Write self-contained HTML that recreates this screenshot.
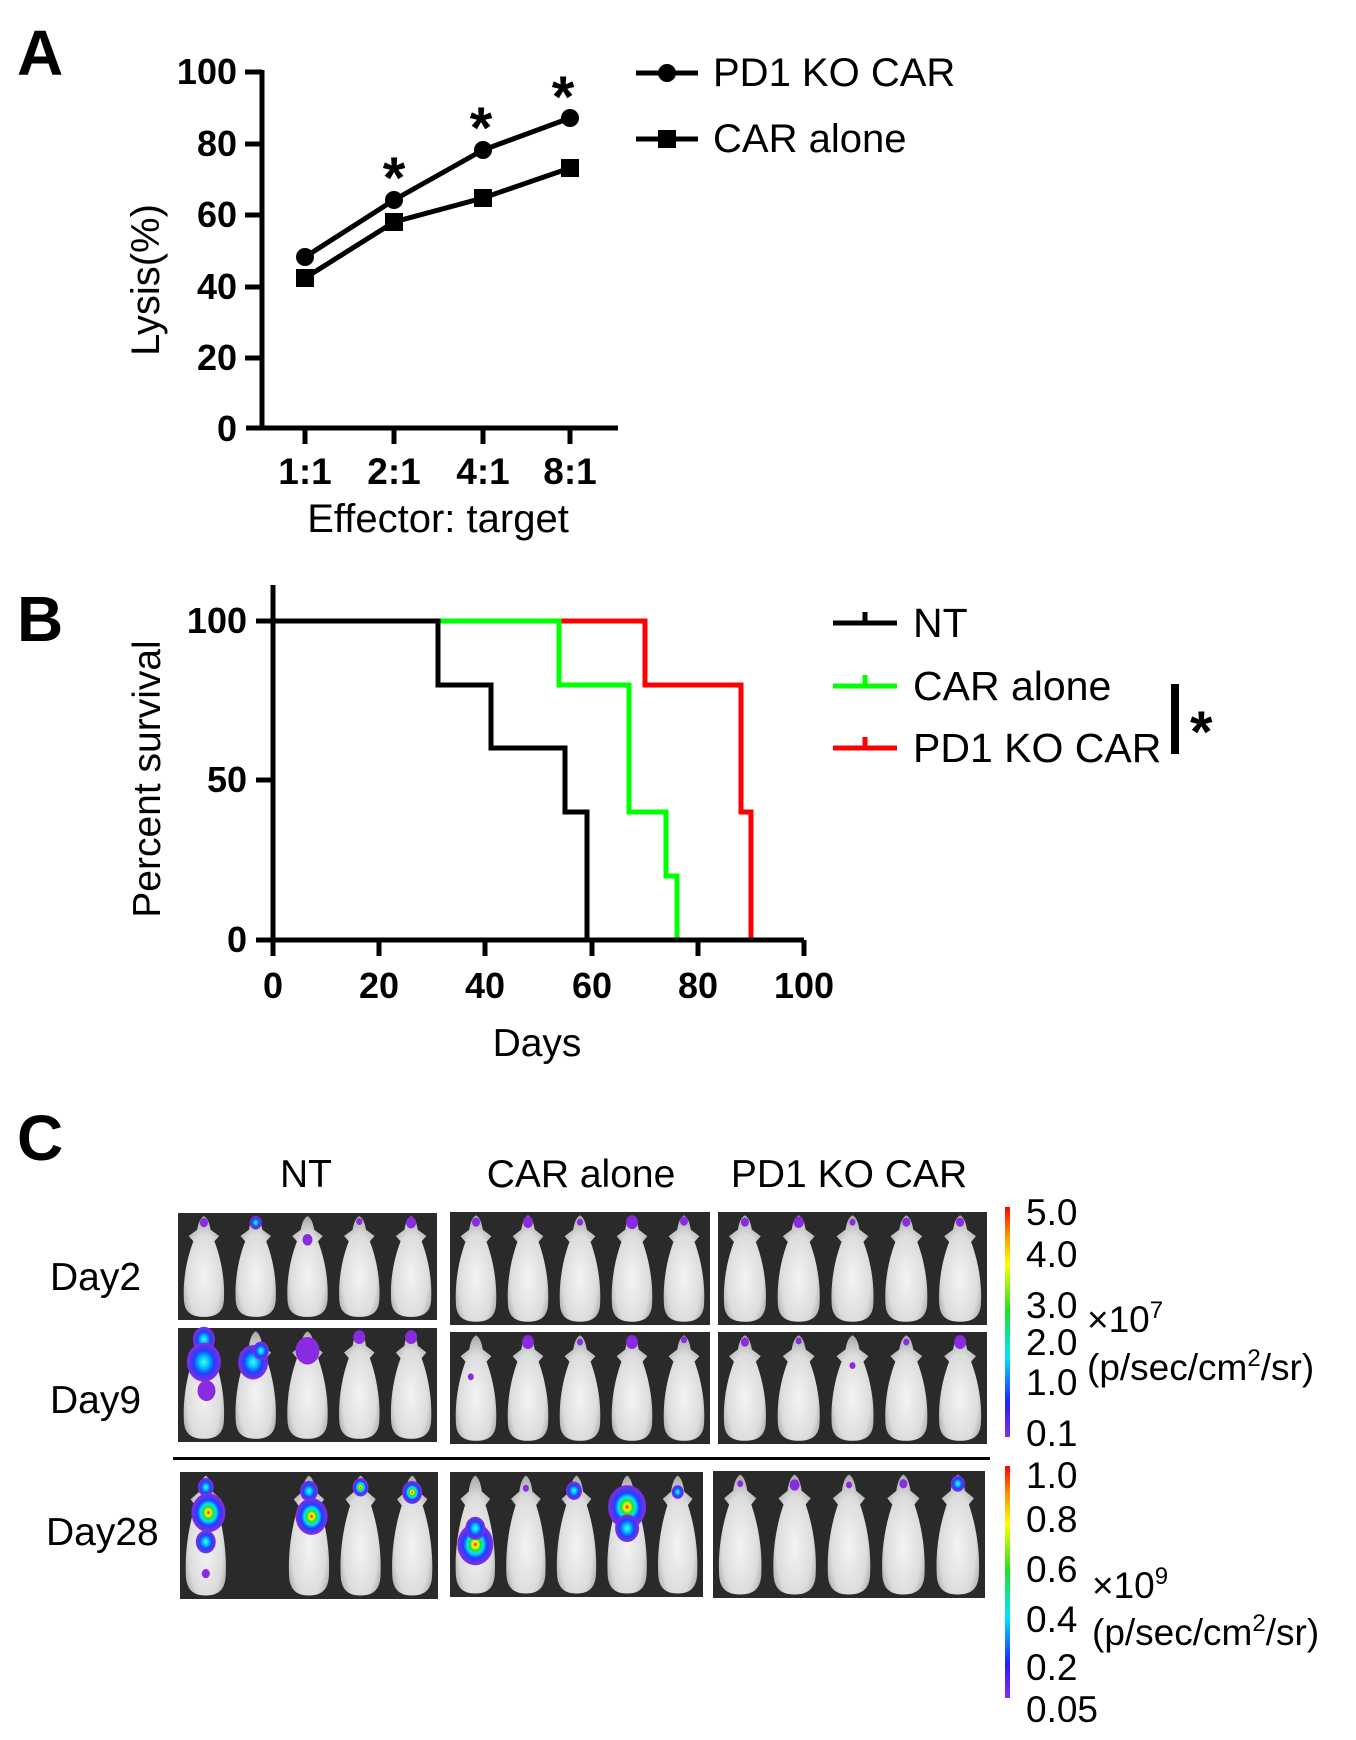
<!DOCTYPE html>
<html><head><meta charset="utf-8"><style>
html,body{margin:0;padding:0;background:#fff;}
svg{display:block;}
text{font-family:"Liberation Sans",Arial,sans-serif;fill:#000;}
.b{font-weight:bold;}
</style></head><body>
<svg id="s" width="1356" height="1740" viewBox="0 0 1356 1740" xmlns="http://www.w3.org/2000/svg">
<defs>
<linearGradient id="cb" x1="0" y1="1" x2="0" y2="0">
<stop offset="0" stop-color="#8a2be2"/><stop offset="0.15" stop-color="#2020ff"/><stop offset="0.35" stop-color="#00e5ff"/><stop offset="0.55" stop-color="#20e020"/><stop offset="0.75" stop-color="#ffff00"/><stop offset="0.88" stop-color="#ff9000"/><stop offset="1" stop-color="#ff0000"/>
</linearGradient>
<radialGradient id="sig">
<stop offset="0" stop-color="#ff0000"/><stop offset="0.15" stop-color="#ffff00"/><stop offset="0.3" stop-color="#20e020"/><stop offset="0.45" stop-color="#00e5ff"/><stop offset="0.65" stop-color="#2040ff"/><stop offset="1" stop-color="#8a2be2"/>
</radialGradient>
<radialGradient id="sigb">
<stop offset="0" stop-color="#40ffe0"/><stop offset="0.3" stop-color="#00c0ff"/><stop offset="0.6" stop-color="#2040ff"/><stop offset="1" stop-color="#8a2be2"/>
</radialGradient>
<radialGradient id="mg" cx="0.5" cy="0.6" r="0.6">
<stop offset="0" stop-color="#f4f4f4"/><stop offset="0.7" stop-color="#dcdcdc"/><stop offset="1" stop-color="#a8a8a8"/>
</radialGradient>
<symbol id="mouse" viewBox="0 0 50 100" preserveAspectRatio="none">
<path d="M25 2 C21 4 19 9 18 15 L9 21 L14 26 C8 40 3 60 4 80 C4 92 10 98 25 98 C40 98 46 92 46 80 C47 60 42 40 36 26 L41 21 L32 15 C31 9 29 4 25 2 Z" fill="url(#mg)"/>
</symbol>
</defs>

<!-- Panel A -->
<text x="17" y="75" class="b" font-size="64">A</text>
<g stroke="#000" stroke-width="5" fill="none">
<path d="M262 70 V430 M246 428 H618"/>
<path d="M245 72 H262 M245 144 H262 M245 215 H262 M245 287 H262 M245 358 H262"/>
<path d="M305 428 V444 M394 428 V444 M483 428 V444 M570 428 V444"/>
<polyline points="305,257 394,200 483,150 570,118"/>
<polyline points="305,278 394,222 483,198 570,168"/>
</g>
<g fill="#000">
<circle cx="305" cy="257" r="9"/><circle cx="394" cy="200" r="9"/><circle cx="483" cy="150" r="9"/><circle cx="570" cy="118" r="9"/>
<rect x="296" y="269" width="18" height="18"/><rect x="385" y="213" width="18" height="18"/><rect x="474" y="189" width="18" height="18"/><rect x="561" y="159" width="18" height="18"/>
</g>
<g class="b" font-size="36" text-anchor="end">
<text x="237" y="84">100</text><text x="237" y="156">80</text><text x="237" y="227">60</text><text x="237" y="299">40</text><text x="237" y="370">20</text><text x="237" y="441">0</text>
</g>
<g class="b" font-size="37" text-anchor="middle">
<text x="305" y="484">1:1</text><text x="394" y="484">2:1</text><text x="483" y="484">4:1</text><text x="570" y="484">8:1</text>
</g>
<g font-size="58" class="b" text-anchor="middle"><text x="394" y="198">*</text><text x="481" y="148">*</text><text x="563" y="117">*</text></g>
<text x="438" y="532" font-size="40" text-anchor="middle">Effector: target</text>
<text transform="translate(159,280) rotate(-90)" font-size="40" text-anchor="middle">Lysis(%)</text>
<g stroke="#000" stroke-width="5"><path d="M636 73 H698 M636 139 H698"/></g>
<circle cx="667" cy="73" r="9"/><rect x="658" y="130" width="18" height="18"/>
<text x="713" y="86" font-size="40">PD1 KO CAR</text>
<text x="713" y="152" font-size="40">CAR alone</text>

<!-- Panel B -->
<text x="17" y="641" class="b" font-size="64">B</text>
<g stroke-width="5" fill="none">
<path stroke="#ff0000" d="M559 621 H645 V685 H741 V812 H751 V940"/>
<path stroke="#00ff00" d="M438 621 H559 V685 H629 V812 H666 V876 H677 V940"/>
<path stroke="#000" d="M273 621 H438 V685 H491 V748 H565 V812 H587 V940"/>
<path stroke="#000" d="M273 585 V942 M256 940 H804"/>
<path stroke="#000" d="M256 621 H273 M256 780 H273"/>
<path stroke="#000" d="M273 940 V956 M379 940 V956 M485 940 V956 M592 940 V956 M698 940 V956 M804 940 V956"/>
</g>
<g class="b" font-size="36" text-anchor="end"><text x="247" y="633">100</text><text x="247" y="792">50</text><text x="247" y="952">0</text></g>
<g class="b" font-size="36" text-anchor="middle"><text x="273" y="998">0</text><text x="379" y="998">20</text><text x="485" y="998">40</text><text x="592" y="998">60</text><text x="698" y="998">80</text><text x="804" y="998">100</text></g>
<text x="537" y="1056" font-size="39" text-anchor="middle">Days</text>
<text transform="translate(160,779) rotate(-90)" font-size="39" text-anchor="middle">Percent survival</text>
<g stroke-width="5"><path stroke="#000" d="M833 623 H897 M865 623 V612"/><path stroke="#00ff00" d="M833 686 H897 M865 686 V675"/><path stroke="#ff0000" d="M833 748 H897 M865 748 V737"/></g>
<g font-size="41"><text x="913" y="637">NT</text><text x="913" y="700">CAR alone</text><text x="913" y="762">PD1 KO CAR</text></g>
<rect x="1171" y="684" width="8" height="70"/>
<text x="1190" y="752" font-size="58" class="b">*</text>

<!-- Panel C -->
<text x="17" y="1160" class="b" font-size="64">C</text>
<g font-size="39" text-anchor="middle"><text x="306" y="1187">NT</text><text x="581" y="1187">CAR alone</text><text x="849" y="1187">PD1 KO CAR</text></g>
<g font-size="39"><text x="50" y="1290">Day2</text><text x="50" y="1413">Day9</text><text x="46" y="1545">Day28</text></g>
<rect x="173" y="1457" width="817" height="3"/>
<g id="panels"></g>
<rect x="1005" y="1207" width="5" height="230" fill="url(#cb)"/>
<rect x="1005" y="1466" width="5" height="232" fill="url(#cb)"/>
<g font-size="37">
<text x="1026" y="1225">5.0</text><text x="1026" y="1267">4.0</text><text x="1026" y="1318">3.0</text><text x="1026" y="1355">2.0</text><text x="1026" y="1395">1.0</text><text x="1026" y="1446">0.1</text>
<text x="1087" y="1332">×10<tspan font-size="24" dy="-14">7</tspan></text>
<text x="1087" y="1380">(p/sec/cm<tspan font-size="24" dy="-14">2</tspan><tspan dy="14">/sr)</tspan></text>
<text x="1026" y="1488">1.0</text><text x="1026" y="1532">0.8</text><text x="1026" y="1582">0.6</text><text x="1026" y="1632">0.4</text><text x="1026" y="1680">0.2</text><text x="1026" y="1722">0.05</text>
<text x="1092" y="1598">×10<tspan font-size="24" dy="-14">9</tspan></text>
<text x="1092" y="1645">(p/sec/cm<tspan font-size="24" dy="-14">2</tspan><tspan dy="14">/sr)</tspan></text>
</g>
</svg>
<script>
(function(){
var NS="http://www.w3.org/2000/svg";var g=document.getElementById("panels");
function el(n,a){var e=document.createElementNS(NS,n);for(var k in a)e.setAttribute(k,a[k]);g.appendChild(e);return e;}
var panels=[[178,1213,259,107],[450,1212,260,113],[718,1212,269,113],
[178,1328,259,114],[450,1332,260,112],[718,1332,269,112],
[180,1472,258,127],[450,1472,253,125],[713,1471,272,127]];
var sig=[
[[0,.5,.09,4,'p'],[1,.5,.09,6,'b'],[2,.5,.25,5,'p'],[3,.5,.08,3,'p'],[4,.5,.09,5,'p']],
[[0,.5,.09,4,'p'],[1,.5,.09,5,'p'],[2,.5,.09,3,'p'],[3,.5,.09,6,'p'],[4,.5,.08,4,'p']],
[[0,.5,.09,4,'p'],[1,.5,.09,5,'p'],[2,.5,.09,3,'p'],[3,.5,.09,4,'p'],[4,.5,.09,4,'p']],
[[0,.5,.1,11,'b'],[0,.5,.3,17,'b'],[0,.55,.55,9,'p'],[1,.45,.3,15,'b'],[1,.6,.2,8,'b'],[2,.5,.2,12,'p'],[3,.5,.08,6,'p'],[4,.5,.08,6,'p']],
[[0,.4,.4,3,'p'],[1,.5,.09,6,'p'],[2,.5,.09,3,'p'],[3,.5,.09,6,'p'],[4,.5,.07,3,'p']],
[[0,.5,.09,4,'p'],[1,.5,.08,3,'p'],[2,.5,.3,3,'p'],[3,.5,.09,3,'p'],[4,.5,.09,6,'p']],
[[0,.5,.12,8,'b'],[0,.55,.32,17,'s'],[0,.5,.55,10,'b'],[0,.5,.8,4,'p'],[2,.5,.15,9,'b'],[2,.55,.35,16,'s'],[3,.5,.12,8,'s'],[4,.5,.16,10,'s']],
[[0,.5,.58,18,'s'],[0,.5,.45,10,'b'],[1,.5,.13,3,'p'],[2,.45,.15,8,'b'],[3,.5,.28,19,'s'],[3,.5,.45,12,'b'],[4,.5,.16,6,'b']],
[[0,.5,.1,3,'p'],[1,.5,.11,5,'p'],[2,.5,.11,3,'p'],[3,.5,.1,4,'p'],[4,.5,.1,7,'b']]];
var gm={p:'#8a2be2',b:'url(#sigb)',s:'url(#sig)'};
panels.forEach(function(p,i){
 el('rect',{x:p[0],y:p[1],width:p[2],height:p[3],fill:'#2a2a2a'});
 var w=p[2]/5;
 for(var m=0;m<5;m++){
  if(i==6&&m==1)continue;
  el('use',{href:'#mouse',x:p[0]+m*w+2,y:p[1]+1,width:w-4,height:p[3]-2});
 }
 sig[i].forEach(function(s){
  var cx=p[0]+s[0]*w+s[1]*w, cy=p[1]+s[2]*p[3];
  el('ellipse',{cx:cx,cy:cy,rx:s[3],ry:s[3]*1.15,fill:gm[s[4]]});
 });
});
})();
</script>
</body></html>
